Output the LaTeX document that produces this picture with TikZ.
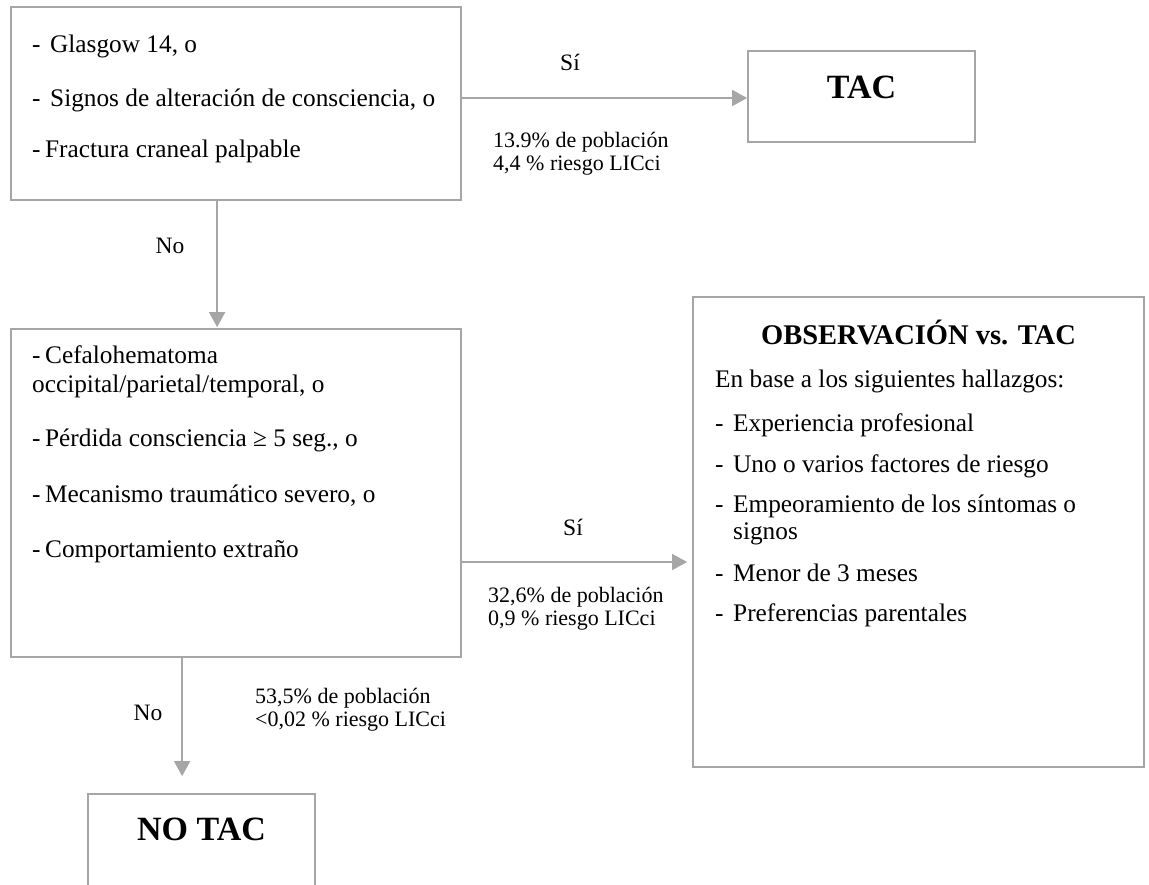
\documentclass[tikz,border=0pt]{standalone}
\usepackage{fontspec}
\setmainfont{Liberation Serif}
\usetikzlibrary{arrows.meta,calc}
\definecolor{lg}{HTML}{A6A6A6}
\begin{document}
\begin{tikzpicture}[x=1pt,y=-1pt,
  box/.style={draw=lg, line width=1.8pt, inner sep=0pt},
  arr/.style={draw=lg, line width=1.8pt, -{Triangle[width=16pt,length=15pt]}},
  body/.style={anchor=base west, inner sep=0pt, font=\fontsize{25.3}{30}\selectfont},
  lbl/.style={anchor=base west, inner sep=0pt, font=\fontsize{22}{26}\selectfont},
  lblc/.style={anchor=base, inner sep=0pt, font=\fontsize{23.5}{28}\selectfont},
  big/.style={anchor=base, inner sep=0pt, font=\bfseries\fontsize{34}{40}\selectfont},
  ttl/.style={anchor=base, inner sep=0pt, font=\bfseries\fontsize{28.5}{34}\selectfont}]
\useasboundingbox[fill=white] (0,0) rectangle (1149,884);

% boxes
\node[box, minimum width=450pt, minimum height=193pt] (b1) at (236,103.5) {};
\node[box, minimum width=227pt, minimum height=91pt] (tac) at (861.5,96.5) {};
\node[box, minimum width=450pt, minimum height=328pt] (b2) at (236,493) {};
\node[box, minimum width=451pt, minimum height=470pt] (obs) at (918.5,532) {};
\node[box, minimum width=227pt, minimum height=94pt] (notac) at (201.5,841) {};

% box 1 text
\node[body] (t11) at (32,52) {\makebox[18pt][l]{-}Glasgow 14, o};
\node[body] (t12) at (32,106) {\makebox[18pt][l]{-}Signos de alteración de consciencia, o};
\node[body] (t13) at (32,157) {\makebox[13pt][l]{-}Fractura craneal palpable};

% TAC
\node[big] (ttac) at (861.5,98) {TAC};

% box 2 text
\node[body] (t21) at (32,363) {\makebox[13pt][l]{-}Cefalohematoma};
\node[body] (t22) at (32,392) {occipital/parietal/temporal, o};
\node[body] (t23) at (32,446) {\makebox[13pt][l]{-}Pérdida consciencia ≥ 5 seg., o};
\node[body] (t24) at (32,502) {\makebox[13pt][l]{-}Mecanismo traumático severo, o};
\node[body] (t25) at (32,557) {\makebox[13pt][l]{-}Comportamiento extraño};

% observation box
\node[ttl] (tobs) at (918.5,344) {OBSERVACIÓN vs. TAC};
\node[body] (o0) at (715,387) {En base a los siguientes hallazgos:};
\node[body] (o1) at (715,431) {\makebox[18pt][l]{-}Experiencia profesional};
\node[body] (o2) at (715,472) {\makebox[18pt][l]{-}Uno o varios factores de riesgo};
\node[body] (o3) at (715,512) {\makebox[18pt][l]{-}Empeoramiento de los síntomas o};
\node[body] (o3b) at (733,539) {signos};
\node[body] (o4) at (715,581) {\makebox[18pt][l]{-}Menor de 3 meses};
\node[body] (o5) at (715,621) {\makebox[18pt][l]{-}Preferencias parentales};

% NO TAC
\node[big] (tnotac) at (201.5,840) {NO TAC};

% connectors
\draw[arr] ([yshift=5.5pt]b1.east) coordinate (s1) -- (s1 -| tac.west);
\draw[arr, shorten >=1pt] ([xshift=207pt]b1.south west) -- ([xshift=207pt]b2.north west);
\draw[arr, shorten >=5pt] ([yshift=-69pt]b2.east) coordinate (s3) -- (s3 -| obs.west);
\draw[arr, shorten >=17pt] ([xshift=172pt]b2.south west) coordinate (s4) -- (s4 |- notac.north);

% connector labels
\node[lblc] (si1) at (570,70) {Sí};
\node[lbl] (p1a) at (493,147) {13.9\% de población};
\node[lbl] (p1b) at (493,170) {4,4 \% riesgo LICci};
\node[lblc] (no1) at (170,253) {No};
\node[lblc] (si2) at (573,535) {Sí};
\node[lbl] (p2a) at (488,602) {32,6\% de población};
\node[lbl] (p2b) at (488,625) {0,9 \% riesgo LICci};
\node[lblc] (no2) at (148,720) {No};
\node[lbl] (p3a) at (255,703) {53,5\% de población};
\node[lbl] (p3b) at (255,726) {<0,02 \% riesgo LICci};
\end{tikzpicture}
\end{document}
